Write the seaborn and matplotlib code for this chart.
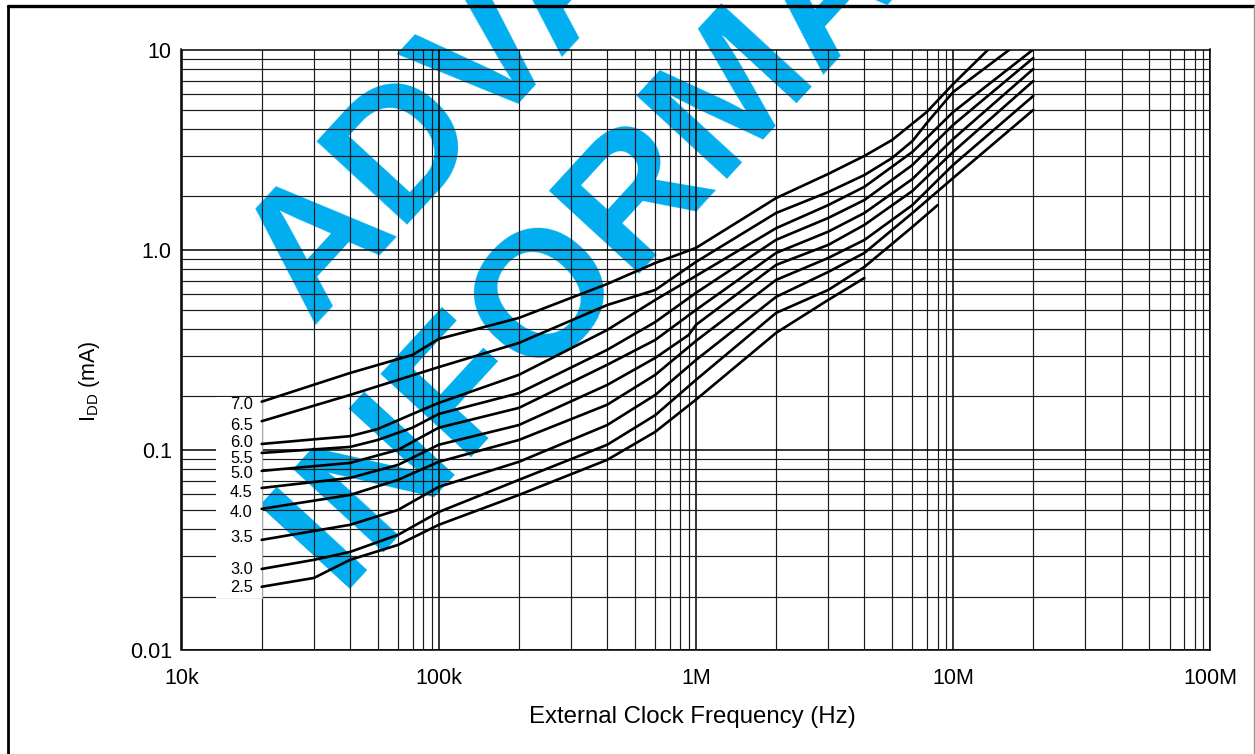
import numpy as np
import pandas as pd
import matplotlib
matplotlib.use("Agg")
import matplotlib.pyplot as plt
from matplotlib.lines import Line2D
from matplotlib.patches import Rectangle
from matplotlib.ticker import FixedLocator, NullFormatter
import seaborn as sns

# Supply voltage of each curve (V)
vdd_labels = ["7.0", "6.5", "6.0", "5.5", "5.0", "4.5", "4.0", "3.5", "3.0", "2.5"]

# External clock frequency (Hz) and supply current IDD (mA) along each curve
freq_70 = [20.5e3, 45.2e3, 79.1e3, 100e3, 205e3, 452e3, 695e3, 1.0e6, 2.05e6, 3.27e6, 4.52e6, 5.79e6, 7.91e6, 10e6, 13.7e6]
idd_70 = [0.174, 0.242, 0.298, 0.358, 0.456, 0.674, 0.858, 1.02, 1.81, 2.39, 2.94, 3.53, 4.88, 6.72, 10.0]

freq_65 = [20.5e3, 45.2e3, 100e3, 205e3, 452e3, 695e3, 1.0e6, 2.05e6, 3.27e6, 4.52e6, 5.79e6, 6.95e6, 7.91e6, 10e6, 16.6e6]
idd_65 = [0.139, 0.188, 0.259, 0.342, 0.529, 0.629, 0.868, 1.525, 1.94, 2.36, 2.87, 3.49, 4.30, 6.13, 10.0]

freq_60 = [20.5e3, 45.2e3, 57.9e3, 79.1e3, 100e3, 205e3, 452e3, 695e3, 1.0e6, 2.05e6, 3.27e6, 4.52e6, 6.95e6, 10e6, 20.5e6]
idd_60 = [0.107, 0.117, 0.127, 0.151, 0.1715, 0.237, 0.397, 0.561, 0.739, 1.28, 1.67, 2.06, 3.08, 4.87, 10.0]

freq_55 = [20.5e3, 45.2e3, 57.9e3, 79.1e3, 100e3, 205e3, 452e3, 695e3, 1.0e6, 2.05e6, 3.27e6, 4.52e6, 6.95e6, 10e6, 20.5e6]
idd_55 = [0.0965, 0.1034, 0.112, 0.129, 0.151, 0.192, 0.316, 0.435, 0.608, 1.12, 1.44, 1.77, 2.65, 4.20, 9.07]

freq_50 = [20.5e3, 45.2e3, 69.5e3, 100e3, 205e3, 452e3, 695e3, 1.0e6, 2.05e6, 3.27e6, 4.52e6, 6.95e6, 10e6, 20.5e6]
idd_50 = [0.0785, 0.086, 0.100, 0.129, 0.162, 0.266, 0.354, 0.50, 0.963, 1.23, 1.525, 2.255, 3.57, 7.99]

freq_45 = [20.5e3, 45.2e3, 69.5e3, 100e3, 205e3, 452e3, 695e3, 938e3, 1.0e6, 2.05e6, 3.27e6, 4.52e6, 6.95e6, 10e6, 20.5e6]
idd_45 = [0.0645, 0.0724, 0.0841, 0.106, 0.133, 0.211, 0.288, 0.375, 0.421, 0.839, 1.056, 1.33, 1.965, 3.08, 6.96]

freq_40 = [20.5e3, 45.2e3, 69.5e3, 100e3, 205e3, 452e3, 695e3, 1.0e6, 2.05e6, 3.27e6, 4.52e6, 6.95e6, 10e6, 20.5e6]
idd_40 = [0.0507, 0.0595, 0.0708, 0.0871, 0.112, 0.168, 0.237, 0.35, 0.706, 0.909, 1.118, 1.672, 2.65, 5.86]

freq_35 = [20.5e3, 45.2e3, 69.5e3, 100e3, 205e3, 452e3, 695e3, 1.0e6, 2.05e6, 3.27e6, 4.52e6, 6.95e6, 10e6, 20.5e6]
idd_35 = [0.0355, 0.0422, 0.0501, 0.0653, 0.0871, 0.133, 0.188, 0.281, 0.581, 0.774, 0.963, 1.525, 2.28, 4.99]

freq_30 = [20.5e3, 32.7e3, 45.2e3, 69.5e3, 100e3, 205e3, 452e3, 695e3, 1.0e6, 2.05e6, 3.27e6, 4.52e6, 6.95e6, 8.71e6]
idd_30 = [0.0254, 0.0282, 0.0309, 0.0376, 0.0489, 0.0708, 0.106, 0.149, 0.2235, 0.483, 0.629, 0.82, 1.30, 1.67]

freq_25 = [20.5e3, 32.7e3, 45.2e3, 69.5e3, 100e3, 205e3, 452e3, 695e3, 1.0e6, 2.05e6, 3.27e6, 4.52e6]
idd_25 = [0.0207, 0.0229, 0.0282, 0.0335, 0.0422, 0.0595, 0.0891, 0.123, 0.178, 0.384, 0.561, 0.722]

curve_freqs = [freq_70, freq_65, freq_60, freq_55, freq_50, freq_45, freq_40, freq_35, freq_30, freq_25]
curve_idds = [idd_70, idd_65, idd_60, idd_55, idd_50, idd_45, idd_40, idd_35, idd_30, idd_25]

# Axis ticks
x_major = [1e4, 1e5, 1e6, 1e7, 1e8]
x_major_labels = ["10k", "100k", "1M", "10M", "100M"]
y_major = [0.01, 0.1, 1.0, 10.0]
y_major_labels = ["0.01", "0.1", "1.0", "10"]
x_minor_steps = [2.05, 3.27, 4.52, 5.79, 6.95, 7.91, 8.71, 9.38]
y_minor_steps = [1.85, 2.95, 4, 5, 6, 7, 8, 9]

rows = []
for lab, fs, ids in zip(vdd_labels, curve_freqs, curve_idds):
    for i, (f, c) in enumerate(zip(fs, ids)):
        rows.append({"vdd": lab, "order": i, "freq": f, "idd": c})
df = pd.DataFrame(rows)

sns.set_theme(style="white")
plt.rcParams["font.family"] = ["Liberation Sans", "DejaVu Sans"]

W, H = 1255, 754
fig = plt.figure(figsize=(W / 100, H / 100), dpi=100)
ax = fig.add_axes([181.5 / W, 1 - 650 / H, 1028.8 / W, 600.5 / H])
ax.set_xscale("log")
ax.set_yscale("log")
ax.set_xlim(1e4, 1e8)
ax.set_ylim(0.01, 10)

sns.lineplot(data=df, x="freq", y="idd", units="vdd", estimator=None, sort=False,
             color="black", linewidth=1.9, ax=ax, zorder=3, legend=False)

ax.set_axisbelow("line")
ax.xaxis.set_major_locator(FixedLocator(x_major))
ax.xaxis.set_minor_locator(FixedLocator([m * 10 ** k for k in range(4, 8) for m in x_minor_steps]))
ax.yaxis.set_major_locator(FixedLocator(y_major))
ax.yaxis.set_minor_locator(FixedLocator([m * 10 ** k for k in range(-2, 1) for m in y_minor_steps]))
ax.set_xticklabels(x_major_labels)
ax.set_yticklabels(y_major_labels)
ax.xaxis.set_minor_formatter(NullFormatter())
ax.yaxis.set_minor_formatter(NullFormatter())
ax.grid(which="major", color="black", linewidth=1.1)
ax.grid(which="minor", color="#1a1a1a", linewidth=0.85)
ax.tick_params(which="both", length=0)
ax.tick_params(axis="x", labelsize=15.5, pad=13, colors="black")
ax.tick_params(axis="y", labelsize=15.5, pad=7, colors="black")
for s in ax.spines.values():
    s.set_color("black")
    s.set_linewidth(1.1)

ax.set_xlabel("External Clock Frequency (Hz)", fontsize=17.3, color="black")
ax.set_ylabel(r"I$_{\mathregular{DD}}$ (mA)", fontsize=15.5, color="black")
ax.xaxis.set_label_coords(0.497, -0.093)
ax.yaxis.set_label_coords(-0.077, 0.447)

# White panel behind the voltage labels
ax.add_patch(Rectangle((0.0335, 0.0866), 0.0447, 0.3347, transform=ax.transAxes,
                       facecolor="white", edgecolor="none", zorder=2.2))
ax.add_line(Line2D([0.0782, 0.0782], [0.0866, 0.4213], transform=ax.transAxes,
                   color="#aaaaaa", linewidth=0.8, zorder=2.3))

# Voltage labels at the start of each curve
label_drop = [3, 4, -1, 6, 3, 5, 4, -2, 1, 1]
for lab, fs, ids, d in zip(vdd_labels, curve_freqs, curve_idds, label_drop):
    ax.annotate(lab, xy=(fs[0], ids[0]), xytext=(-9, -d), textcoords="offset pixels",
                ha="right", va="center", fontsize=11.8, color="black", zorder=4)

# Watermark
wm_color = "#00AEEF"
for txt, (px, py) in [("ADVANCE", (606, 3)), ("INFORMATION", (762, 128))]:
    ax.text(px / W, 1 - py / H, txt, transform=fig.transFigure, rotation=47.4,
            rotation_mode="anchor", ha="center", va="baseline", fontsize=129,
            fontweight="bold", color=wm_color, clip_on=False, zorder=1)

# Page frame
fig.add_artist(Line2D([8 / W, 8 / W], [-0.1, 1 - 6 / H], transform=fig.transFigure,
                      color="black", linewidth=2.0))
fig.add_artist(Line2D([8 / W, 1254 / W], [1 - 6 / H, 1 - 6 / H], transform=fig.transFigure,
                      color="black", linewidth=2.4))
fig.add_artist(Line2D([1254 / W, 1254 / W], [-0.1, 1 - 6 / H], transform=fig.transFigure,
                      color="#999999", linewidth=1.0))

fig.savefig("out.png", dpi=100)
